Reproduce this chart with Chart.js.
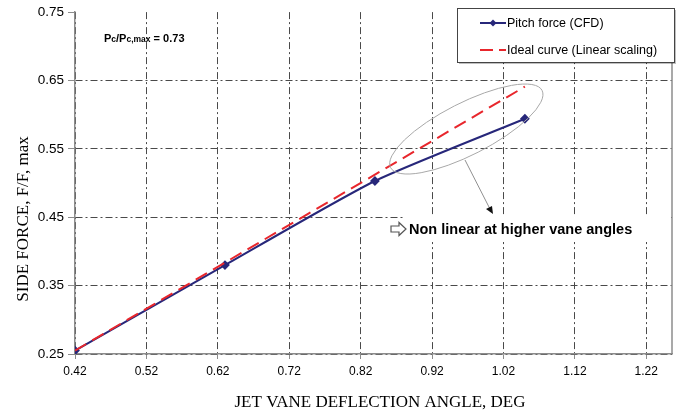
<!DOCTYPE html>
<html>
<head>
<meta charset="utf-8">
<script src="https://cdn.jsdelivr.net/npm/chart.js@4.4.1/dist/chart.umd.min.js"></script>
<style>
  html, body { margin: 0; padding: 0; background: #fff; }
  #wrap { width: 688px; height: 417px; }
</style>
</head>
<body>
<div id="wrap"><canvas id="myChart" width="688" height="417"></canvas></div>
<script>
// values
const pitchAngle = [0.42, 0.63, 0.84, 1.05];
const pitchForce = [0.255, 0.38, 0.503, 0.594];
const idealAngle = [0.42, 1.05];
const idealForce = [0.255, 0.641];
const xTicks = [0.42, 0.52, 0.62, 0.72, 0.82, 0.92, 1.02, 1.12, 1.22];
const yTicks = [0.25, 0.35, 0.45, 0.55, 0.65, 0.75];

const BLUE = "#27277a";
const RED = "#e8262c";
const SANS = "'Liberation Sans', Arial, sans-serif";
const SERIF = "'Liberation Serif', 'Times New Roman', serif";

function fitText(c, txt, x, y, maxW) {
  const w = c.measureText(txt).width;
  c.save();
  c.translate(x, y);
  if (w > maxW) c.scale(maxW / w, 1);
  c.fillText(txt, 0, 0);
  c.restore();
}

// extras: right frame line, legend box, notes, ellipse, axis titles
const extras = {
  id: "extras",
  afterDraw(chart) {
    const c = chart.ctx;
    const a = chart.chartArea;
    const xs = chart.scales.x, ys = chart.scales.y;
    c.save();

    // right frame
    c.strokeStyle = "#8c8c8c";
    c.lineWidth = 1.5;
    c.beginPath();
    c.moveTo(a.right, a.top);
    c.lineTo(a.right, a.bottom);
    c.stroke();

    // white box behind the note (grid is cut there)
    c.fillStyle = "#fff";
    c.fillRect(404, 216, a.right - 405, 26);

    // ellipse round the non linear part
    const ex = xs.getPixelForValue(0.968), ey = ys.getPixelForValue(0.579);
    c.strokeStyle = "#a8a8a8";
    c.lineWidth = 1;
    c.beginPath();
    c.ellipse(ex, ey, 85, 26, -27 * Math.PI / 180, 0, Math.PI * 2);
    c.stroke();
    // pointer
    c.strokeStyle = "#909090";
    c.beginPath();
    c.moveTo(465, 160);
    c.lineTo(490, 209);
    c.stroke();
    c.fillStyle = "#111";
    c.beginPath();
    c.moveTo(493, 214);
    c.lineTo(486, 209);
    c.lineTo(492, 206);
    c.closePath();
    c.fill();

    // hollow arrow
    c.fillStyle = "#fff";
    c.strokeStyle = "#555";
    c.lineWidth = 1.2;
    c.beginPath();
    c.moveTo(391, 226);
    c.lineTo(399, 226);
    c.lineTo(399, 222.5);
    c.lineTo(406, 229);
    c.lineTo(399, 235.5);
    c.lineTo(399, 232);
    c.lineTo(391, 232);
    c.closePath();
    c.fill();
    c.stroke();

    c.fillStyle = "#000";
    c.textBaseline = "alphabetic";
    c.textAlign = "left";
    c.font = "bold 14.5px " + SANS;
    fitText(c, "Non linear at higher vane angles", 409, 234, 231);

    // Pc/Pc,max note
    const parts = [["P", 11], ["c", 8.5], ["/P", 11], ["c,max", 8.5], [" = 0.73", 11]];
    let px = 104;
    parts.forEach(p => {
      c.font = "bold " + p[1] + "px " + SANS;
      c.fillText(p[0], px, 42);
      px += c.measureText(p[0]).width;
    });

    // legend
    c.fillStyle = "rgba(0,0,0,0.25)";
    c.fillRect(459, 10, 217, 54);
    c.fillStyle = "#fff";
    c.fillRect(457, 8, 217, 54);
    c.strokeStyle = "#444";
    c.lineWidth = 1;
    c.strokeRect(457.5, 8.5, 217, 54);

    c.strokeStyle = BLUE;
    c.lineWidth = 2;
    c.beginPath();
    c.moveTo(480, 23);
    c.lineTo(506, 23);
    c.stroke();
    c.fillStyle = BLUE;
    c.beginPath();
    c.moveTo(493, 19.5);
    c.lineTo(496.5, 23);
    c.lineTo(493, 26.5);
    c.lineTo(489.5, 23);
    c.closePath();
    c.fill();

    c.strokeStyle = RED;
    c.setLineDash([13, 6]);
    c.beginPath();
    c.moveTo(480, 50);
    c.lineTo(506, 50);
    c.stroke();
    c.setLineDash([]);

    c.fillStyle = "#000";
    c.font = "12.5px " + SANS;
    c.fillText("Pitch force (CFD)", 507, 27);
    c.fillText("Ideal curve (Linear scaling)", 507, 54);

    // axis titles
    c.font = "17px " + SERIF;
    c.textAlign = "center";
    fitText(c, "JET VANE DEFLECTION ANGLE, DEG", 380, 407, 999);
    c.translate(28, 219);
    c.rotate(-Math.PI / 2);
    c.fillText("SIDE FORCE, F/F, max", 0, 0);

    c.restore();
  },
};

const ctx = document.getElementById("myChart");

new Chart(ctx, {
  type: "line",
  data: {
    datasets: [
      {
        label: "Pitch force (CFD)",
        data: pitchAngle.map((v, i) => ({ x: v, y: pitchForce[i] })),
        borderColor: BLUE,
        backgroundColor: BLUE,
        borderWidth: 2,
        pointStyle: "rectRot",
        pointRadius: 3.5,
        tension: 0.2,
        order: 2,
      },
      {
        label: "Ideal curve (Linear scaling)",
        data: idealAngle.map((v, i) => ({ x: v, y: idealForce[i] })),
        borderColor: RED,
        backgroundColor: RED,
        borderWidth: 2,
        borderDash: [13, 7],
        pointRadius: 0,
        order: 1,
      },
    ],
  },
  options: {
    responsive: false,
    animation: false,
    layout: { padding: { top: 9, right: 16, left: 0, bottom: 0 } },
    plugins: {
      legend: { display: false },
      tooltip: { enabled: false },
    },
    scales: {
      x: {
        type: "linear",
        min: 0.42,
        max: 1.256,
        afterBuildTicks: (s) => { s.ticks = xTicks.map(v => ({ value: v })); },
        afterFit: (s) => { s.height = 63; },
        ticks: {
          color: "#000",
          font: { family: SANS, size: 12 },
          padding: 5,
          maxRotation: 0,
          callback: (v) => v.toFixed(2),
        },
        grid: {
          color: "#4a4a4a",
          lineWidth: 1,
          tickLength: 5,
          tickColor: "#8c8c8c",
        },
        border: { color: "#8c8c8c", width: 1.5, dash: [7, 3, 2, 3] },
      },
      y: {
        min: 0.25,
        max: 0.75,
        afterBuildTicks: (s) => { s.ticks = yTicks.map(v => ({ value: v })); },
        afterFit: (s) => { s.width = 75; },
        ticks: {
          color: "#000",
          font: { family: SANS, size: 13.5 },
          padding: 4,
          callback: (v) => v.toFixed(2),
        },
        grid: {
          color: (c) => (c.tick && c.tick.value > 0.74 ? "rgba(0,0,0,0)" : "#4a4a4a"),
          lineWidth: 1,
          tickLength: 7,
          tickColor: "#8c8c8c",
        },
        border: { color: "#8c8c8c", width: 1.5, dash: [7, 3, 2, 3] },
      },
    },
  },
  plugins: [extras],
});
</script>
</body>
</html>
